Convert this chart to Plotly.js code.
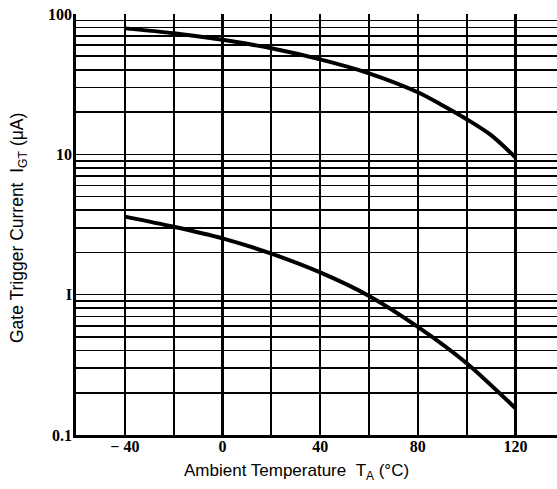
<!DOCTYPE html>
<html>
<head>
<meta charset="utf-8">
<script src="https://cdn.plot.ly/plotly-3.0.1.min.js"></script>
<style>html,body{margin:0;padding:0;background:#fff;}#chart{width:557px;height:489px;}</style>
</head>
<body>
<div id="chart"></div>
<script>
// Data
var tempUpper = [-40, -20, 0, 20, 40, 60, 80, 90, 100, 110, 120];
var igtUpper  = [79, 73, 65.5, 57, 47.5, 37.8, 27.7, 22.4, 17.8, 13.7, 9.5];
var tempLower = [-40, -20, 0, 20, 40, 60, 80, 100, 120];
var igtLower  = [3.6, 3.05, 2.52, 1.96, 1.44, 0.98, 0.59, 0.325, 0.155];

var xGrid      = [-60, -40, -20, 0, 20, 40, 60, 80, 100, 120, 140];
var xTickVals  = [-40, 0, 40, 80, 120];
var xTickText  = ['\u2212 40', '0', '40', '80', '120'];

var yGrid = [];
[0.1, 1, 10].forEach(function (d) {
  for (var k = 1; k <= 9; k++) yGrid.push(+(d * k).toPrecision(3));
});
yGrid.push(100);
var yTickVals = [0.1, 1, 10, 100];
var yTickText = ['0.1', 'I', '10', '100'];

var lineStyle = {color: '#000', width: 4, shape: 'spline', smoothing: 0.8};
var traces = [
  {x: tempUpper, y: igtUpper, mode: 'lines', line: lineStyle, hoverinfo: 'skip'},
  {x: tempLower, y: igtLower, mode: 'lines', line: lineStyle, hoverinfo: 'skip'},
  // carrier for the label-only axes
  {x: [tempLower[0]], y: [igtLower[0]], xaxis: 'x2', yaxis: 'y2', mode: 'markers',
   marker: {opacity: 0}, hoverinfo: 'skip'}
];

var tickFont = {family: 'Liberation Serif, Times New Roman, serif', size: 16, color: '#000', weight: 'bold'};

var layout = {
  width: 557, height: 489,
  margin: {l: 76, r: 0, t: 14, b: 54},
  paper_bgcolor: '#fff', plot_bgcolor: '#fff',
  showlegend: false,
  xaxis: {
    range: [-60, 137],
    tickmode: 'array', tickvals: xGrid, showticklabels: false,
    showgrid: true, gridcolor: '#000', gridwidth: 2.2,
    zeroline: false, showline: true, linecolor: '#000', linewidth: 3,
    ticks: ''
  },
  yaxis: {
    type: 'log', range: [-1, 2],
    tickmode: 'array', tickvals: yGrid, showticklabels: false,
    showgrid: true, gridcolor: '#000', gridwidth: 1.6,
    zeroline: false, showline: true, linecolor: '#000', linewidth: 3,
    ticks: ''
  },
  xaxis2: {
    overlaying: 'x', side: 'bottom', range: [-60, 137],
    tickmode: 'array', tickvals: xTickVals, ticktext: xTickText,
    showgrid: false, zeroline: false, showline: false, ticks: '', tickfont: tickFont
  },
  yaxis2: {
    overlaying: 'y', side: 'left', type: 'log', range: [-1, 2],
    tickmode: 'array', tickvals: yTickVals, ticktext: yTickText,
    showgrid: false, zeroline: false, showline: false, ticks: '', tickfont: tickFont,
    ticklabelstandoff: 3
  },
  annotations: [
    {xref: 'paper', yref: 'paper', x: (296 - 76) / 481, y: -(472 - 435) / 421,
     text: 'Ambient Temperature\u00a0\u00a0T<sub>A</sub> (\u00b0C)', showarrow: false,
     xanchor: 'center', yanchor: 'middle',
     font: {family: 'Liberation Sans, Arial, sans-serif', size: 17, color: '#000'}},
    {xref: 'paper', yref: 'paper', x: -(76 - 18) / 481, y: (435 - 228) / 421,
     text: 'Gate Trigger Current\u00a0\u00a0I<sub>GT</sub> (\u03bcA)', showarrow: false,
     textangle: -90, xanchor: 'center', yanchor: 'middle',
     font: {family: 'Liberation Sans, Arial, sans-serif', size: 17.5, color: '#000'}}
  ]
};

Plotly.newPlot('chart', traces, layout, {staticPlot: true, displayModeBar: false});
</script>
</body>
</html>
